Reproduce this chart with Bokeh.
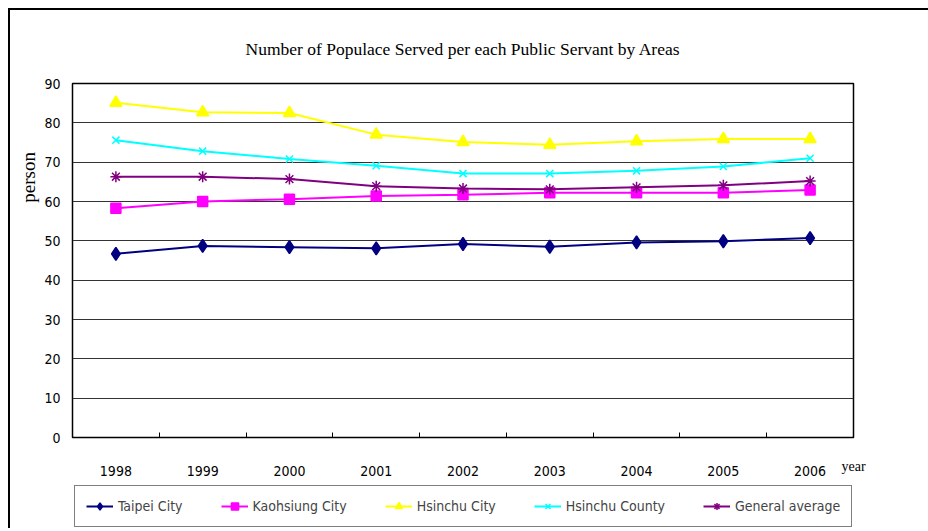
from bokeh.plotting import figure
from bokeh.models import Range1d, FixedTicker, Legend, LegendItem
from bokeh.layouts import column
from bokeh.embed import file_html
from bokeh.resources import INLINE

# ---- data ----
years = [1998, 1999, 2000, 2001, 2002, 2003, 2004, 2005, 2006]
taipei_city = [46.7, 48.7, 48.4, 48.1, 49.2, 48.5, 49.6, 49.9, 50.7]
kaohsiung_city = [58.3, 60.0, 60.6, 61.4, 61.7, 62.2, 62.2, 62.2, 62.9]
hsinchu_city = [85.1, 82.7, 82.5, 77.0, 75.1, 74.4, 75.3, 75.9, 75.9]
hsinchu_county = [75.6, 72.8, 70.8, 69.1, 67.1, 67.1, 67.8, 68.9, 71.0]
general_average = [66.3, 66.3, 65.7, 63.9, 63.3, 63.1, 63.6, 64.1, 65.2]
y_ticks = [0, 10, 20, 30, 40, 50, 60, 70, 80, 90]

title_text = "Number of Populace Served per each Public Servant by Areas"
y_label = "person"
x_label = "year"
NARROW = "DejaVu Sans Condensed"
SERIF = "Liberation Serif"
NBSP = "\u00a0"

p = figure(frame_width=781, frame_height=354, output_backend="svg", toolbar_location=None,
           x_range=Range1d(years[0] - 0.5, years[-1] + 0.5), y_range=Range1d(y_ticks[0], y_ticks[-1]),
           min_border_left=62, min_border_right=75, min_border_top=73, min_border_bottom=48)
p.background_fill_color = "white"
p.border_fill_color = "white"
p.outline_line_color = "black"
p.outline_line_width = 1.5

p.title.text = title_text
p.title.align = "center"
p.title.text_font = SERIF
p.title.text_font_size = "17.5px"
p.title.text_font_style = "normal"
p.title.text_color = "black"
p.title.standoff = 50

# x axis: labels at years, small inward ticks between categories
bounds = [y + 0.5 for y in years[:-1]]
p.xaxis.ticker = FixedTicker(ticks=years, minor_ticks=bounds)
p.xaxis.axis_line_color = None
p.xaxis.major_tick_line_color = None
p.xaxis.major_tick_in = 0
p.xaxis.major_tick_out = 0
p.xaxis.minor_tick_line_color = "black"
p.xaxis.minor_tick_in = 5
p.xaxis.minor_tick_out = 0
p.xaxis.major_label_standoff = 28
p.xaxis.major_label_text_font = NARROW
p.xaxis.major_label_text_font_size = "14px"
p.xaxis.major_label_text_color = "black"
p.xaxis.axis_label = x_label
p.xaxis.axis_label_align = "end"
p.xaxis.axis_label_standoff = -20
p.xaxis.axis_label_text_font = SERIF
p.xaxis.axis_label_text_font_size = "14px"
p.xaxis.axis_label_text_font_style = "normal"
p.xaxis.axis_label_text_color = "black"

p.yaxis.ticker = FixedTicker(ticks=y_ticks)
p.yaxis.axis_line_color = None
p.yaxis.major_tick_line_color = None
p.yaxis.major_tick_in = 0
p.yaxis.major_tick_out = 0
p.yaxis.minor_tick_line_color = None
p.yaxis.major_label_standoff = 12
p.yaxis.major_label_text_font = NARROW
p.yaxis.major_label_text_font_size = "14px"
p.yaxis.major_label_text_color = "black"
p.yaxis.axis_label = NBSP * 35 + y_label
p.yaxis.axis_label_standoff = 2
p.yaxis.axis_label_text_font = SERIF
p.yaxis.axis_label_text_font_size = "19px"
p.yaxis.axis_label_text_font_style = "normal"
p.yaxis.axis_label_text_color = "black"

p.xgrid.grid_line_color = None
p.ygrid.grid_line_color = "#333333"
p.ygrid.grid_line_width = 1.2

series = [
    ("Taipei City", taipei_city, "#000080", "diamond", 13),
    ("Kaohsiung City", kaohsiung_city, "#FF00FF", "square", 10),
    ("Hsinchu City", hsinchu_city, "#FFFF00", "triangle", 12),
    ("Hsinchu County", hsinchu_county, "#00FFFF", "x", 10),
    ("General average", general_average, "#800080", "asterisk", 11),
]

for name, vals, color, marker, size in series:
    p.line(years, vals, line_color=color, line_width=2)
    p.scatter(years, vals, marker=marker, size=size, fill_color=color,
              line_color=color, line_width=1.5)

# legend strip below the chart (its own small canvas so the box is not clipped)
p2 = figure(width=918, height=43, output_backend="svg", toolbar_location=None,
            x_range=Range1d(0, 1), y_range=Range1d(0, 1),
            x_axis_location=None, y_axis_location=None, min_border=0)
p2.outline_line_color = None
p2.grid.visible = False
p2.background_fill_color = "white"
p2.border_fill_color = "white"

items = []
for name, vals, color, marker, size in series:
    ln = p2.line(years, vals, line_color=color, line_width=2)
    sc = p2.scatter(years, vals, marker=marker, size=size, fill_color=color,
                    line_color=color, line_width=1.5)
    items.append(LegendItem(label=name, renderers=[ln, sc]))

legend = Legend(items=items, orientation="horizontal", location=(2, 1),
                glyph_width=27, glyph_height=18, label_height=18, label_width=40,
                label_standoff=5, spacing=38, padding=11, margin=0,
                label_text_font=NARROW, label_text_font_size="14px",
                border_line_color="black", border_line_width=1.5,
                background_fill_color="white", background_fill_alpha=1.0,
                inactive_fill_alpha=0.0)
p2.add_layout(legend, "center")

layout = column(p, p2, spacing=0,
                styles={"margin-left": "8px", "margin-top": "8px",
                        "border-left": "2px solid black", "border-top": "2px solid black"})

open("out.html", "w").write(file_html(layout, INLINE))
